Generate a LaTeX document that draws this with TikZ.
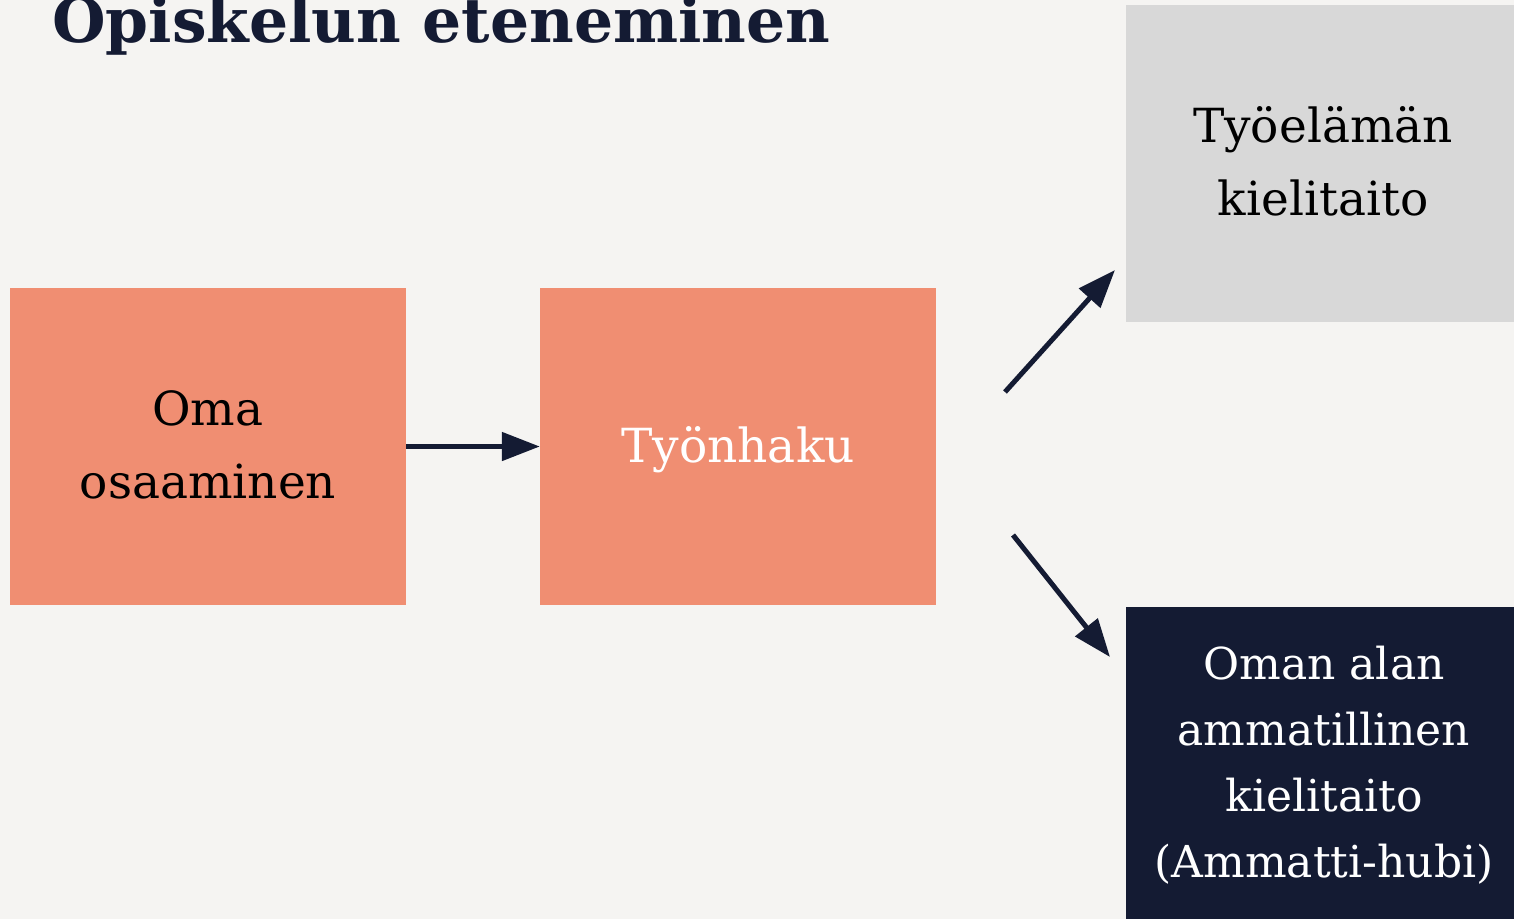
\documentclass[tikz,border=0pt]{standalone}
\usepackage{fontspec}
\setmainfont{DejaVu Serif}
\usetikzlibrary{arrows.meta}
\definecolor{bg}{HTML}{F5F4F2}
\definecolor{salmon}{HTML}{F08E72}
\definecolor{greybox}{HTML}{D8D8D8}
\definecolor{navy}{HTML}{141B33}
\tikzset{
  box/.style={draw=none, inner sep=0pt, minimum width=#1},
  conn/.style={draw=navy, line width=5pt, -{Triangle[length=38pt,width=28pt]}},
  lbl/.style={inner sep=0pt, align=center, anchor=base},
  bodyfont/.style={font=\fontsize{47}{73}\selectfont},
  smallfont/.style={font=\fontsize{44}{66}\selectfont},
}
\begin{document}
\begin{tikzpicture}[x=1pt,y=-1pt]
\useasboundingbox (0,0) rectangle (1514,919);
\fill[bg] (0,0) rectangle (1514,919);
\node[lbl, anchor=base west, text=navy, font=\fontsize{61.5}{70}\selectfont\bfseries] (title) at (52,42) {Opiskelun eteneminen};
\node[box=396pt, minimum height=317pt, fill=salmon] (b1) at (208,446.5) {};
\node[box=396pt, minimum height=317pt, fill=salmon] (b2) at (738,446.5) {};
\node[box=388pt, minimum height=317pt, fill=greybox] (b3) at (1320,163.5) {};
\node[box=388pt, minimum height=312pt, fill=navy] (b4) at (1320,763) {};
\node[lbl, bodyfont, text=black] (t1) at (208,498) {Oma\\osaaminen};
\node[lbl, bodyfont, text=white] (t2) at (738,462) {Työnhaku};
\node[lbl, bodyfont, text=black] (t3) at (1323,215) {Työelämän\\kielitaito};
\node[lbl, smallfont, text=white] (t4) at (1324,877) {Oman alan\\ammatillinen\\kielitaito\\(Ammatti-hubi)};
\coordinate (a2s) at (1005,392);
\coordinate (a2e) at (1115,270);
\coordinate (a3s) at (1013,535);
\coordinate (a3e) at (1110,657);
\draw[conn] (b1.east) -- (b2.west);
\draw[conn] (a2s) -- (a2e);
\draw[conn] (a3s) -- (a3e);
\end{tikzpicture}
\end{document}
